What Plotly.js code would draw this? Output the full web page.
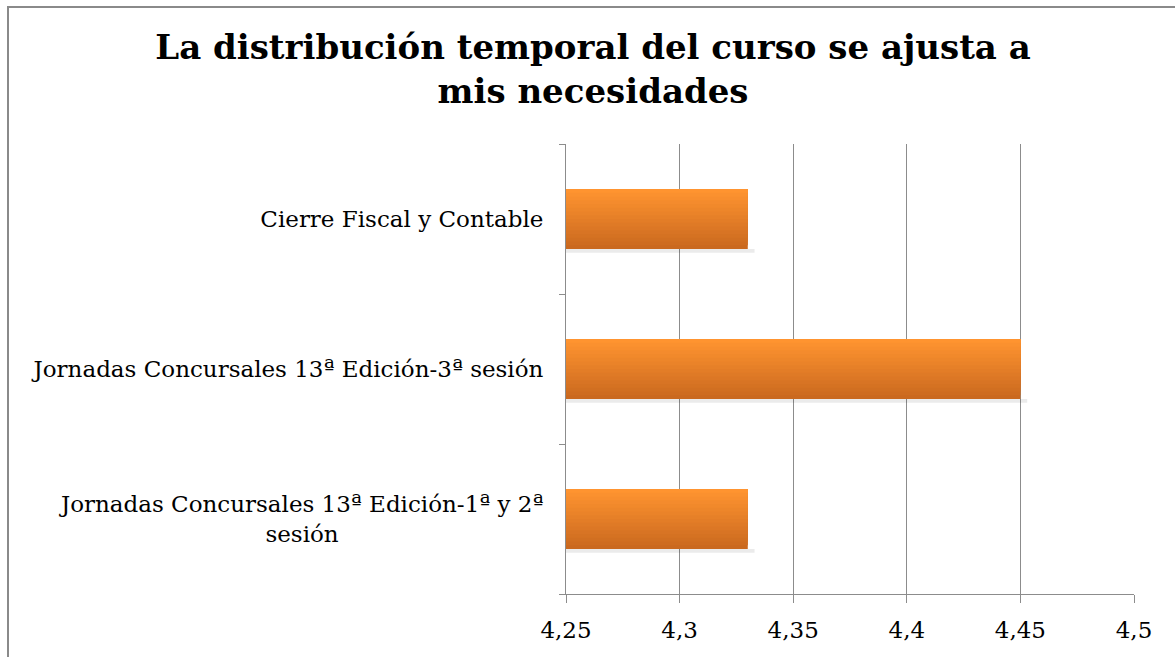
<!DOCTYPE html>
<html>
<head>
<meta charset="utf-8">
<script src="https://cdn.plot.ly/plotly-3.0.1.min.js"></script>
<style>
  html, body { margin: 0; padding: 0; background: #fff; overflow: hidden; }
  #frame { position: absolute; left: 7px; top: 6px; width: 1400px; height: 900px;
           border-left: 2px solid #8a8a8a; border-top: 2px solid #8a8a8a; }
  #chart { position: absolute; left: 0; top: 0; width: 1175px; height: 657px; }
</style>
</head>
<body>
<div id="frame"></div>
<div id="chart"></div>
<script>
const PAD = '\u00A0'.repeat(28);
const categories = [
  'Jornadas Concursales 13ª Edición-1ª y 2ª<br>sesión' + PAD,
  'Jornadas Concursales 13ª Edición-3ª sesión',
  'Cierre Fiscal y Contable'
];
const values = [4.33, 4.45, 4.33];
const tickVals = [4.25, 4.3, 4.35, 4.4, 4.45, 4.5];
const tickText = ['4,25', '4,3', '4,35', '4,4', '4,45', '4,5'];
const chartTitle = 'La distribución temporal del curso se ajusta a<br>mis necesidades';

const FONT = 'DejaVu Serif, Liberation Serif, serif';
const barThickness = 0.4;
const nStrips = 16;
const topColor = [255, 148, 48];
const bottomColor = [202, 105, 31];
const axisMin = 4.25;

const traces = [];
// soft shadow under each bar
traces.push({
  type: 'bar', orientation: 'h', x: values.map(v => v - axisMin + 0.003), y: categories,
  base: axisMin, offset: -barThickness / 2 - 0.025, width: 0.025,
  marker: { color: 'rgba(0,0,0,0.08)', line: { width: 0 } },
  hoverinfo: 'skip', showlegend: false
});
// vertical gradient: each layer starts higher and runs to the top of the bar
const step = barThickness / nStrips;
for (let i = 0; i < nStrips; i++) {
  const t = i / (nStrips - 1);
  const c = bottomColor.map((b, k) => Math.round(b + (topColor[k] - b) * t));
  traces.push({
    type: 'bar', orientation: 'h', x: values, y: categories,
    offset: -barThickness / 2 + i * step,
    width: barThickness - i * step,
    marker: { color: 'rgb(' + c.join(',') + ')', line: { width: 0 } },
    hoverinfo: 'skip', showlegend: false
  });
}

const layout = {
  width: 1175, height: 657,
  paper_bgcolor: 'rgba(0,0,0,0)', plot_bgcolor: 'rgba(0,0,0,0)',
  margin: { l: 566, r: 41, t: 144, b: 63, pad: 0 },
  barmode: 'overlay',
  separators: ',.',
  font: { family: FONT, color: '#000' },
  title: {
    text: chartTitle,
    font: { family: FONT, size: 34, color: '#000', weight: 'bold' },
    x: 593 / 1175, xanchor: 'center', xref: 'container',
    y: 1 - 59 / 657, yanchor: 'middle', yref: 'container'
  },
  xaxis: {
    range: [4.25, 4.5],
    tickvals: tickVals, ticktext: tickText,
    showgrid: true, gridcolor: '#8c8c8c', gridwidth: 1,
    showline: true, linecolor: '#8c8c8c', linewidth: 1,
    ticks: 'outside', ticklen: 8, tickcolor: '#8c8c8c',
    ticklabelstandoff: 7,
    tickfont: { family: FONT, size: 23, color: '#000' },
    zeroline: false, fixedrange: true
  },
  yaxis: {
    type: 'category',
    showgrid: false,
    showline: true, linecolor: '#8c8c8c', linewidth: 1,
    ticks: 'outside', ticklen: 6, tickcolor: '#8c8c8c',
    tickson: 'boundaries',
    ticklabelstandoff: 17,
    tickfont: { family: FONT, size: 23, color: '#000' },
    zeroline: false, fixedrange: true
  },
  showlegend: false
};

Plotly.newPlot('chart', traces, layout, { displayModeBar: false, staticPlot: true });
</script>
</body>
</html>
